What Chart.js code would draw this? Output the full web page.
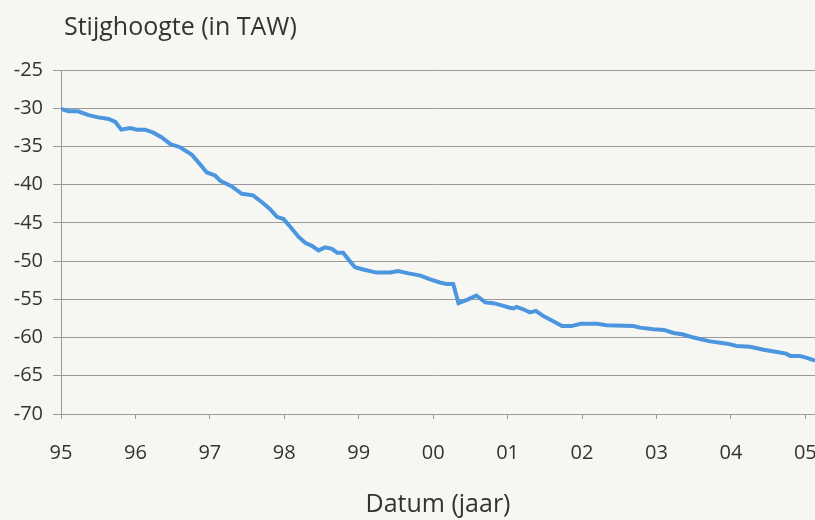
<!DOCTYPE html>
<html>
<head>
<meta charset="utf-8">
<script src="https://cdn.jsdelivr.net/npm/chart.js@4.4.1/dist/chart.umd.min.js"></script>
<style>
  html, body { margin: 0; padding: 0; background: #f6f7f3; }
  canvas { display: block; }
</style>
</head>
<body>
<canvas id="c" width="815" height="520"></canvas>
<script>
// Date (decimal year) of each reading
const dates = [
  1995.00, 1995.10, 1995.23, 1995.37, 1995.50, 1995.64, 1995.73, 1995.81, 1995.93,
  1996.02, 1996.13, 1996.24, 1996.35, 1996.47, 1996.60, 1996.76, 1996.89, 1996.96,
  1997.07, 1997.14, 1997.29, 1997.43, 1997.58, 1997.70, 1997.81, 1997.90, 1997.99,
  1998.08, 1998.19, 1998.28, 1998.37, 1998.46, 1998.55, 1998.64, 1998.71, 1998.79,
  1998.88, 1998.95, 1999.06, 1999.24, 1999.42, 1999.53, 1999.67, 1999.83, 1999.96,
  2000.09, 2000.18, 2000.27, 2000.34, 2000.47, 2000.58, 2000.70, 2000.81, 2000.92,
  2001.03, 2001.08, 2001.12, 2001.21, 2001.30, 2001.38, 2001.48, 2001.62, 2001.73,
  2001.86, 2001.98, 2002.20, 2002.33, 2002.69, 2002.78, 2002.96, 2003.10, 2003.23,
  2003.36, 2003.50, 2003.63, 2003.72, 2003.95, 2004.08, 2004.26, 2004.44, 2004.62,
  2004.74, 2004.80, 2004.92, 2005.00, 2005.13
];
// Stijghoogte (m TAW)
const levels = [
  -30.1, -30.4, -30.4, -30.9, -31.2, -31.4, -31.8, -32.8, -32.6,
  -32.8, -32.8, -33.2, -33.8, -34.7, -35.1, -36.1, -37.6, -38.4,
  -38.8, -39.5, -40.2, -41.2, -41.4, -42.3, -43.2, -44.2, -44.5,
  -45.5, -46.8, -47.6, -48.0, -48.6, -48.2, -48.4, -48.9, -48.9,
  -50.0, -50.8, -51.1, -51.5, -51.5, -51.3, -51.6, -51.9, -52.4,
  -52.8, -53.0, -53.0, -55.5, -55.0, -54.5, -55.4, -55.5, -55.8,
  -56.1, -56.2, -56.0, -56.3, -56.7, -56.5, -57.2, -57.9, -58.5,
  -58.5, -58.2, -58.2, -58.4, -58.5, -58.7, -58.9, -59.0, -59.4,
  -59.6, -60.0, -60.3, -60.5, -60.8, -61.1, -61.2, -61.6, -61.9,
  -62.1, -62.4, -62.4, -62.6, -63.0
];
// X axis ticks
const tickYears = [1995, 1996, 1997, 1998, 1999, 2000, 2001, 2002, 2003, 2004, 2005];
const tickLabels = ['95', '96', '97', '98', '99', '00', '01', '02', '03', '04', '05'];
// Y axis range
const yMin = -70, yMax = -25, yStep = 5;
const xMin = 1995, xMax = 2005.13;

const FONT = "'Open Sans', 'Noto Sans', sans-serif";
const TXT = '#333333';
const GRID = '#9a9a9a';

const topTitle = {
  id: 'topTitle',
  afterDraw(chart) {
    const ctx = chart.ctx;
    ctx.save();
    ctx.font = '25px ' + FONT;
    ctx.fillStyle = TXT;
    ctx.textAlign = 'left';
    ctx.textBaseline = 'middle';
    ctx.fillText('Stijghoogte (in TAW)', chart.chartArea.left + 3, 28);
    ctx.restore();
  }
};

new Chart(document.getElementById('c'), {
  type: 'line',
  data: {
    datasets: [{
      data: dates.map((d, i) => ({ x: d, y: levels[i] })),
      borderColor: '#4b96df',
      borderWidth: 4,
      pointRadius: 0,
      tension: 0,
      fill: false
    }]
  },
  options: {
    responsive: false,
    animation: false,
    devicePixelRatio: 1,
    layout: { padding: { top: 70, right: 0, bottom: 0, left: 0 } },
    plugins: { legend: { display: false }, tooltip: { enabled: false }, title: { display: false } },
    scales: {
      x: {
        type: 'linear',
        min: xMin,
        max: xMax,
        afterBuildTicks: s => { s.ticks = tickYears.map(v => ({ value: v })); },
        afterFit: s => { s.height = 106; s.paddingLeft = 0; s.paddingRight = 0; },
        ticks: {
          callback: (v) => tickLabels[tickYears.indexOf(v)],
          font: { family: FONT, size: 20 },
          color: TXT,
          padding: 22,
          maxRotation: 0,
          autoSkip: false
        },
        grid: { drawOnChartArea: false, drawTicks: true, tickLength: 5, color: GRID, lineWidth: 1 },
        border: { color: GRID, width: 1 },
        title: {
          display: true,
          text: 'Datum (jaar)',
          font: { family: FONT, size: 25 },
          color: TXT,
          padding: { top: 0, bottom: 0 }
        }
      },
      y: {
        min: yMin,
        max: yMax,
        afterFit: s => { s.width = 61; },
        ticks: {
          stepSize: yStep,
          font: { family: FONT, size: 20 },
          color: TXT,
          padding: 10
        },
        grid: { color: GRID, lineWidth: 1, tickLength: 8 },
        border: { color: GRID, width: 1 }
      }
    }
  },
  plugins: [topTitle]
});
</script>
</body>
</html>
